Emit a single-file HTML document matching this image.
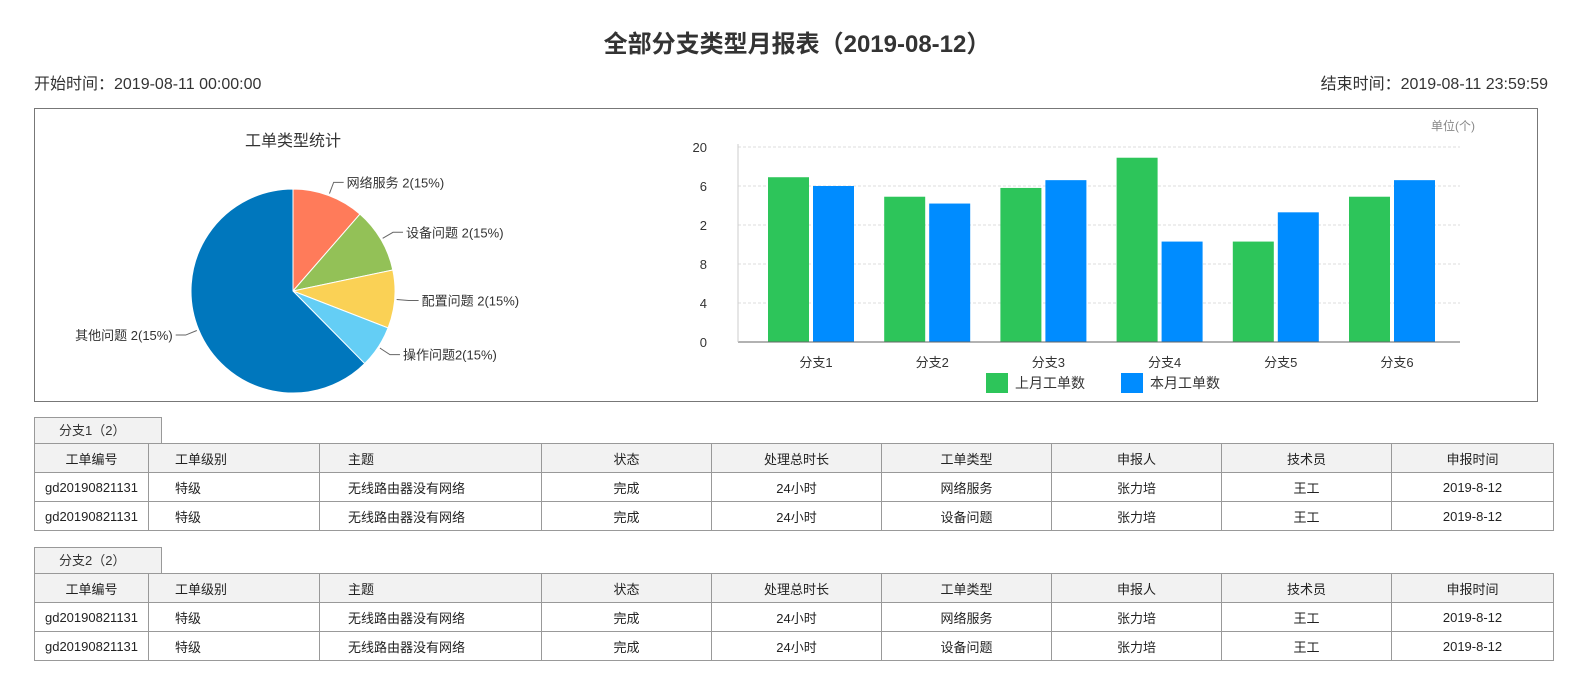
<!DOCTYPE html>
<html><head><meta charset="utf-8">
<style>
body{margin:0;width:1594px;height:678px;background:#fff;font-family:"Liberation Sans","Noto Sans CJK SC",sans-serif;color:#333;position:relative;overflow:hidden}
.abs{position:absolute}
table{border-collapse:collapse;position:absolute;left:34px;width:1520px;font-size:13px;table-layout:fixed}
td,th{border:1px solid #999;height:28px;padding:0;font-weight:normal;color:#222}
th{background:#f2f2f2}
.tab{position:absolute;left:34px;width:128px;height:26px;border:1px solid #999;border-bottom:none;background:#f2f2f2;font-size:13px;line-height:26px;padding-left:0;text-indent:24px;box-sizing:border-box}
</style></head><body>
<div class="abs" style="left:0;width:1594px;top:24px;text-align:center;font-size:24px;font-weight:bold;color:#333">全部分支类型月报表（2019-08-12）</div>
<div class="abs" style="left:34px;top:70px;font-size:16px">开始时间：2019-08-11 00:00:00</div>
<div class="abs" style="right:46px;top:70px;font-size:16px">结束时间：2019-08-11 23:59:59</div>
<div class="abs" style="left:34px;top:108px;width:1502px;height:292px;border:1px solid #777"></div>
<svg class="abs" style="left:0;top:0" width="1594" height="410" font-family="Liberation Sans, Noto Sans CJK SC, sans-serif">
<text x="293" y="146" text-anchor="middle" font-size="16" fill="#333">工单类型统计</text>
<g id="pie"></g>
<g id="bar"></g>
</svg>
<div class="tab" style="top:417px">分支1（2）</div>
<table style="top:443px"><colgroup><col style="width:114px"><col style="width:171px"><col style="width:222px"><col style="width:170px"><col style="width:170px"><col style="width:170px"><col style="width:170px"><col style="width:170px"><col></colgroup>
<tr><th>工单编号</th><th style="text-align:left;padding-left:26px">工单级别</th><th style="text-align:left;padding-left:28px">主题</th><th>状态</th><th>处理总时长</th><th>工单类型</th><th>申报人</th><th>技术员</th><th>申报时间</th></tr>
<tr><td align="center">gd20190821131</td><td style="padding-left:26px">特级</td><td style="padding-left:28px">无线路由器没有网络</td><td align="center">完成</td><td align="center">24小时</td><td align="center">网络服务</td><td align="center">张力培</td><td align="center">王工</td><td align="center">2019-8-12</td></tr>
<tr><td align="center">gd20190821131</td><td style="padding-left:26px">特级</td><td style="padding-left:28px">无线路由器没有网络</td><td align="center">完成</td><td align="center">24小时</td><td align="center">设备问题</td><td align="center">张力培</td><td align="center">王工</td><td align="center">2019-8-12</td></tr></table>
<div class="tab" style="top:547px">分支2（2）</div>
<table style="top:573px"><colgroup><col style="width:114px"><col style="width:171px"><col style="width:222px"><col style="width:170px"><col style="width:170px"><col style="width:170px"><col style="width:170px"><col style="width:170px"><col></colgroup>
<tr><th>工单编号</th><th style="text-align:left;padding-left:26px">工单级别</th><th style="text-align:left;padding-left:28px">主题</th><th>状态</th><th>处理总时长</th><th>工单类型</th><th>申报人</th><th>技术员</th><th>申报时间</th></tr>
<tr><td align="center">gd20190821131</td><td style="padding-left:26px">特级</td><td style="padding-left:28px">无线路由器没有网络</td><td align="center">完成</td><td align="center">24小时</td><td align="center">网络服务</td><td align="center">张力培</td><td align="center">王工</td><td align="center">2019-8-12</td></tr>
<tr><td align="center">gd20190821131</td><td style="padding-left:26px">特级</td><td style="padding-left:28px">无线路由器没有网络</td><td align="center">完成</td><td align="center">24小时</td><td align="center">设备问题</td><td align="center">张力培</td><td align="center">王工</td><td align="center">2019-8-12</td></tr></table>
<script>
const pieLabels=["网络服务 2(15%)","设备问题 2(15%)","配置问题 2(15%)","操作问题2(15%)","其他问题 2(15%)"];
const pieValues=[11.4,10.3,9.2,6.7,62.4];
const pieColors=["#ff7b5a","#93c157","#fad155","#64cef5","#0077bd"];
const categories=["分支1","分支2","分支3","分支4","分支5","分支6"];
const lastMonth=[16.9,14.9,15.8,18.9,10.3,14.9];
const thisMonth=[16,14.2,16.6,10.3,13.3,16.6];
const yTickValues=[0,4,8,12,16,20];
const yTickLabels=["0","4","8","2","6","1"];
const NS="http://www.w3.org/2000/svg";
function mk(t,a,p){const e=document.createElementNS(NS,t);for(const k in a)e.setAttribute(k,a[k]);p.appendChild(e);return e;}
// pie
const pie=document.getElementById('pie');
const cx=293,cy=291,R=102;
const tot=pieValues.reduce((a,b)=>a+b,0);
let a0=0;
pieValues.forEach((v,i)=>{
 const a1=a0+v/tot*2*Math.PI;
 const p=(a)=>[cx+R*Math.sin(a),cy-R*Math.cos(a)];
 const [x0,y0]=p(a0),[x1,y1]=p(a1);
 const s=mk('path',{d:`M${cx},${cy}L${x0},${y0}A${R},${R} 0 ${a1-a0>Math.PI?1:0} 1 ${x1},${y1}Z`,fill:pieColors[i],stroke:'#fff','stroke-width':1},pie);
 
 
 const m=(a0+a1)/2,right=Math.sin(m)>=0;
 const ex=cx+(R+2)*Math.sin(m),ey=cy-(R+2)*Math.cos(m);
 const kx=cx+(R+14)*Math.sin(m),ky=cy-(R+14)*Math.cos(m);
 const lx=kx+(right?10:-10);
 mk('polyline',{points:`${ex},${ey} ${kx},${ky} ${lx},${ky}`,fill:'none',stroke:'#666','stroke-width':1},pie);
 const t=mk('text',{x:lx+(right?3:-3),y:ky+5,'font-size':13,fill:'#333','text-anchor':right?'start':'end'},pie);
 t.textContent=pieLabels[i];
 
 
 a0=a1;
});
// bar
const bar=document.getElementById('bar');
const x0=738,x1=1460,yb=342,yt=147,ymax=20;
const ys=v=>yb-(yb-yt)*v/ymax;
const step=116.2,c0=816;
const xc=i=>c0+i*step;
yTickValues.forEach((v,i)=>{
 if(v>0)mk('line',{x1:x0,x2:x1,y1:ys(v),y2:ys(v),stroke:'#ddd','stroke-dasharray':'3,2'},bar);
 const t=mk('text',{x:707,y:ys(v)+5,'font-size':13,fill:'#333','text-anchor':'end'},bar);
 t.textContent=v===20?"20":yTickLabels[i];
 
 
});
const u=mk('text',{x:1475,y:130,'font-size':12,fill:'#888','text-anchor':'end'},bar);u.textContent="单位(个)";


categories.forEach((c,i)=>{
 const g=mk('rect',{x:xc(i)-48,y:ys(lastMonth[i]),width:41,height:yb-ys(lastMonth[i]),fill:'#2dc55a'},bar);
 
 
 const b=mk('rect',{x:xc(i)-3,y:ys(thisMonth[i]),width:41,height:yb-ys(thisMonth[i]),fill:'#008cff'},bar);
 
 
 const t=mk('text',{x:xc(i),y:367,'font-size':13,fill:'#333','text-anchor':'middle'},bar);
 t.textContent=c;
 
 
});
mk('line',{x1:x0,x2:x1,y1:yb,y2:yb,stroke:'#666'},bar);
mk('line',{x1:x0,x2:x0,y1:yt-3,y2:yb,stroke:'#ccc'},bar);
[["上月工单数","#2dc55a",986],["本月工单数","#008cff",1121]].forEach(([n,c,x])=>{
 const r=mk('rect',{x:x,y:373,width:22,height:20,fill:c},bar);
 
 
 const t=mk('text',{x:x+29,y:388,'font-size':14,fill:'#333'},bar);t.textContent=n;
 
 
});
</script>
</body></html>
